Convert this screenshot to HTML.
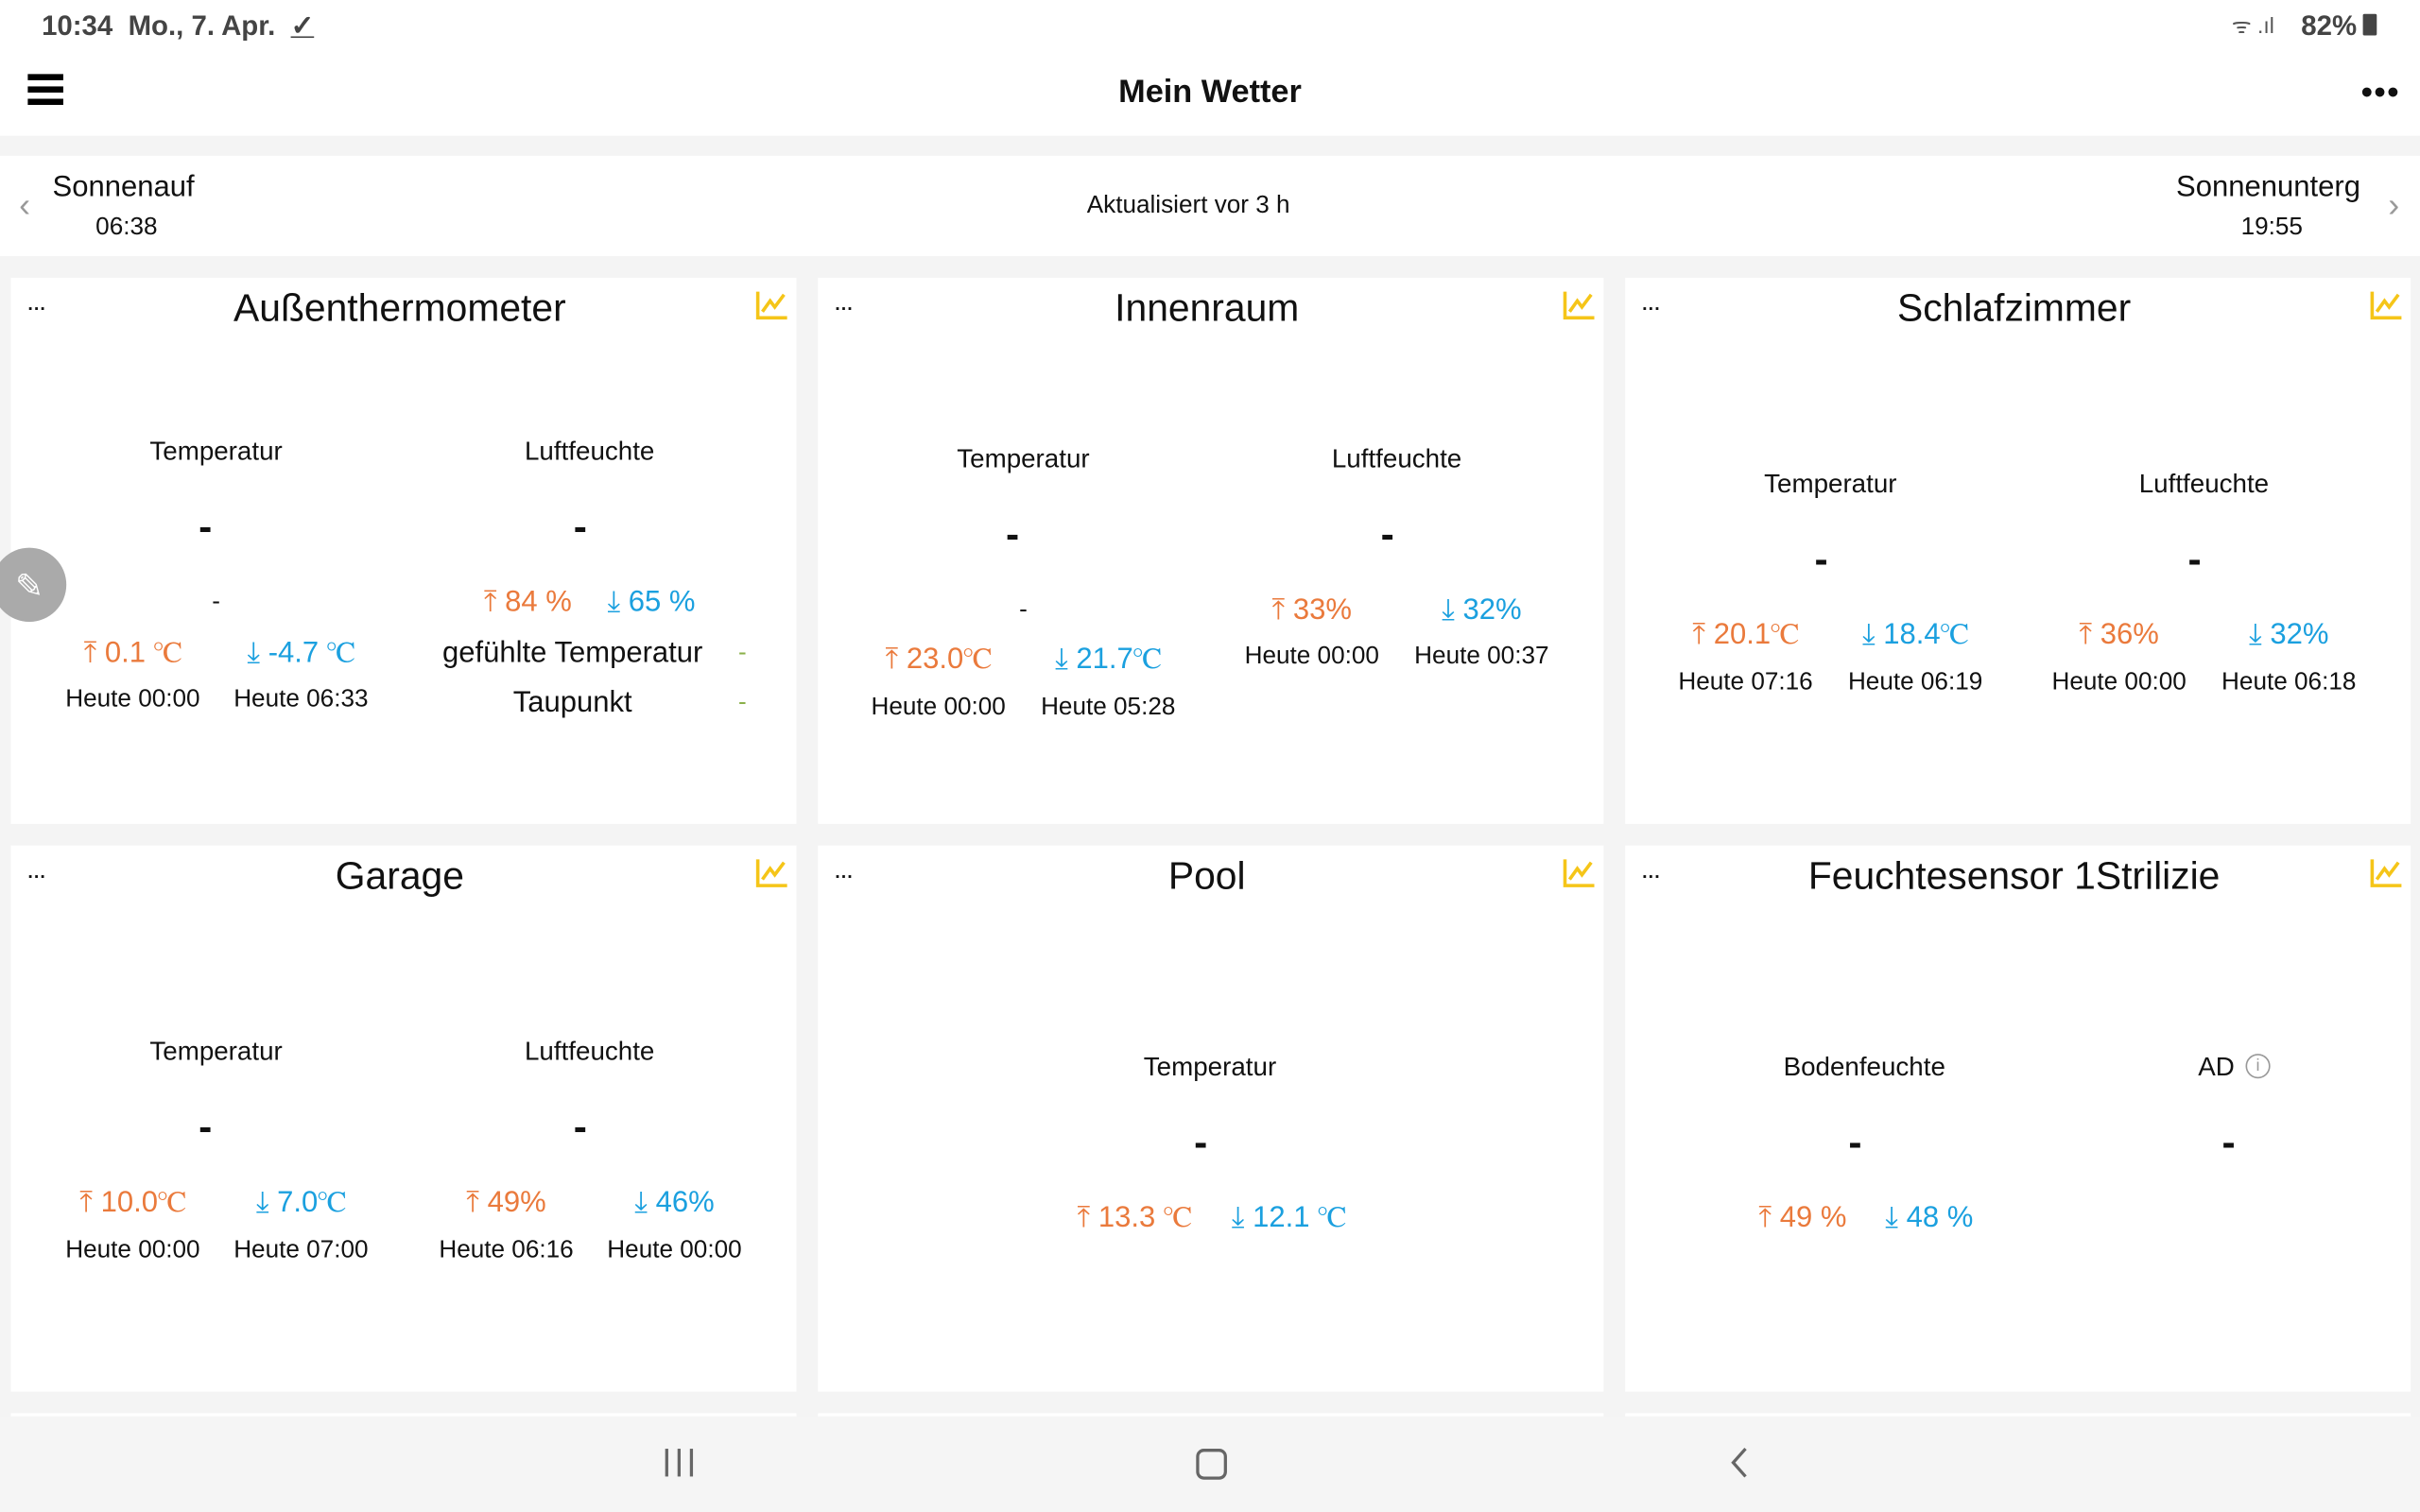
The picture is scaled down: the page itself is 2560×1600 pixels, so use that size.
<!DOCTYPE html>
<html><head><meta charset="utf-8"><style>
html,body{margin:0;padding:0;width:2560px;height:1600px;overflow:hidden;background:#f4f4f4}
#s{position:absolute;left:0;top:0;width:1568px;height:980px;transform:scale(1.63265);transform-origin:0 0;font-family:"Liberation Sans",sans-serif;color:#111;background:#f4f4f4}
.a{position:absolute;transform:translate(-50%,-45%);white-space:nowrap}
.l{position:absolute;transform:translateY(-45%);white-space:nowrap}
.w{position:absolute;background:#fff}
.t{font-size:25px}
.lb{font-size:17px}
.v{font-size:19px}
.h{font-size:16px}
.o{color:#ea7a3c}.b{color:#1ba0df}
.d{font-size:26px;font-weight:bold}
.dots{position:absolute;font-size:12px;font-weight:bold;letter-spacing:0px;transform:translateY(-50%)}
.ci{position:absolute;width:22px;height:20px}
</style></head><body><div id="s">
<div class="w" style="left:0;top:0;width:1568px;height:88px"></div>
<div class="l" style="left:27px;top:16px;font-size:18px;font-weight:bold;color:#444">10:34&nbsp;&nbsp;Mo., 7. Apr.&nbsp;&nbsp;<span style="text-decoration:underline">✓</span></div>
<div class="l" style="left:1446px;top:16px;font-size:14px;color:#555">ᯤ .ıl</div>
<div class="l" style="left:1491px;top:16px;font-size:18px;font-weight:bold;color:#444">82%</div>
<div style="position:absolute;left:1531px;top:9px;width:9px;height:14px;background:#444;border-radius:1px"></div>
<div style="position:absolute;left:18px;top:48px;width:23px;height:4px;background:#000"></div>
<div style="position:absolute;left:18px;top:56px;width:23px;height:4px;background:#000"></div>
<div style="position:absolute;left:18px;top:64px;width:23px;height:4px;background:#000"></div>
<div class="a" style="left:784px;top:59px;font-size:21px;font-weight:bold">Mein Wetter</div>
<div class="a" style="left:1542px;top:58px;font-size:14px;font-weight:bold">●●●</div>
<div class="w" style="left:0;top:101px;width:1568px;height:65px"></div>
<div class="a" style="left:16px;top:132px;font-size:22px;color:#999">‹</div>
<div class="l" style="left:34px;top:121px;font-size:19px">Sonnenauf</div>
<div class="a" style="left:82px;top:147px;font-size:16px">06:38</div>
<div class="a" style="left:770px;top:133px;font-size:16px">Aktualisiert vor 3 h</div>
<div class="l" style="left:1410px;top:121px;font-size:19px">Sonnenunterg</div>
<div class="a" style="left:1472px;top:147px;font-size:16px">19:55</div>
<div class="a" style="left:1551px;top:132px;font-size:22px;color:#999">›</div>

<div class="w" style="left:7px;top:180px;width:509px;height:354px"></div>
<div class="w" style="left:530px;top:180px;width:509px;height:354px"></div>
<div class="w" style="left:1053px;top:180px;width:509px;height:354px"></div>
<div class="w" style="left:7px;top:548px;width:509px;height:354px"></div>
<div class="w" style="left:530px;top:548px;width:509px;height:354px"></div>
<div class="w" style="left:1053px;top:548px;width:509px;height:354px"></div>
<div class="w" style="left:7px;top:916px;width:509px;height:10px"></div>
<div class="w" style="left:530px;top:916px;width:509px;height:10px"></div>
<div class="w" style="left:1053px;top:916px;width:509px;height:10px"></div>

<div class="dots" style="left:18px;top:200px">···</div>
<div class="dots" style="left:541px;top:200px">···</div>
<div class="dots" style="left:1064px;top:200px">···</div>
<div class="dots" style="left:18px;top:568px">···</div>
<div class="dots" style="left:541px;top:568px">···</div>
<div class="dots" style="left:1064px;top:568px">···</div>
<svg class="ci" style="left:489px;top:188px" viewBox="0 0 22 20"><path d="M2 1V18H21M5 14L10 7L13 11L19 3" fill="none" stroke="#f5c518" stroke-width="2.2"/></svg>
<svg class="ci" style="left:1012px;top:188px" viewBox="0 0 22 20"><path d="M2 1V18H21M5 14L10 7L13 11L19 3" fill="none" stroke="#f5c518" stroke-width="2.2"/></svg>
<svg class="ci" style="left:1535px;top:188px" viewBox="0 0 22 20"><path d="M2 1V18H21M5 14L10 7L13 11L19 3" fill="none" stroke="#f5c518" stroke-width="2.2"/></svg>
<svg class="ci" style="left:489px;top:556px" viewBox="0 0 22 20"><path d="M2 1V18H21M5 14L10 7L13 11L19 3" fill="none" stroke="#f5c518" stroke-width="2.2"/></svg>
<svg class="ci" style="left:1012px;top:556px" viewBox="0 0 22 20"><path d="M2 1V18H21M5 14L10 7L13 11L19 3" fill="none" stroke="#f5c518" stroke-width="2.2"/></svg>
<svg class="ci" style="left:1535px;top:556px" viewBox="0 0 22 20"><path d="M2 1V18H21M5 14L10 7L13 11L19 3" fill="none" stroke="#f5c518" stroke-width="2.2"/></svg>

<div class="a t" style="left:259px;top:199px">Außenthermometer</div>
<div class="a t" style="left:782px;top:199px">Innenraum</div>
<div class="a t" style="left:1305px;top:199px">Schlafzimmer</div>
<div class="a t" style="left:259px;top:567px">Garage</div>
<div class="a t" style="left:782px;top:567px">Pool</div>
<div class="a t" style="left:1305px;top:567px">Feuchtesensor 1Strilizie</div>

<div class="a lb" style="left:140px;top:292px">Temperatur</div>
<div class="a lb" style="left:382px;top:292px">Luftfeuchte</div>
<div class="a d" style="left:133px;top:340px">-</div>
<div class="a d" style="left:376px;top:340px">-</div>
<div class="a h" style="left:140px;top:390px">-</div>
<div class="a v o" style="left:342px;top:390px">⤒ 84 %</div>
<div class="a v b" style="left:422px;top:390px">⤓ 65 %</div>
<div class="a v o" style="left:86px;top:423px">⤒ 0.1 ℃</div>
<div class="a v b" style="left:195px;top:423px">⤓ -4.7 ℃</div>
<div class="a v" style="left:371px;top:423px">gefühlte Temperatur</div>
<div class="a h" style="left:481px;top:423px;color:#8ab04a">-</div>
<div class="a h" style="left:86px;top:453px">Heute 00:00</div>
<div class="a h" style="left:195px;top:453px">Heute 06:33</div>
<div class="a v" style="left:371px;top:455px">Taupunkt</div>
<div class="a h" style="left:481px;top:455px;color:#8ab04a">-</div>
<div style="position:absolute;left:-5px;top:355px;width:48px;height:48px;border-radius:50%;background:#aaa"></div>
<div class="a" style="left:19px;top:379px;font-size:22px;color:#fff">✎</div>

<div class="a lb" style="left:663px;top:297px">Temperatur</div>
<div class="a lb" style="left:905px;top:297px">Luftfeuchte</div>
<div class="a d" style="left:656px;top:345px">-</div>
<div class="a d" style="left:899px;top:345px">-</div>
<div class="a h" style="left:663px;top:395px">-</div>
<div class="a v o" style="left:850px;top:395px">⤒ 33%</div>
<div class="a v b" style="left:960px;top:395px">⤓ 32%</div>
<div class="a h" style="left:850px;top:425px">Heute 00:00</div>
<div class="a h" style="left:960px;top:425px">Heute 00:37</div>
<div class="a v o" style="left:608px;top:427px">⤒ 23.0℃</div>
<div class="a v b" style="left:718px;top:427px">⤓ 21.7℃</div>
<div class="a h" style="left:608px;top:458px">Heute 00:00</div>
<div class="a h" style="left:718px;top:458px">Heute 05:28</div>

<div class="a lb" style="left:1186px;top:313px">Temperatur</div>
<div class="a lb" style="left:1428px;top:313px">Luftfeuchte</div>
<div class="a d" style="left:1180px;top:361px">-</div>
<div class="a d" style="left:1422px;top:361px">-</div>
<div class="a v o" style="left:1131px;top:411px">⤒ 20.1℃</div>
<div class="a v b" style="left:1241px;top:411px">⤓ 18.4℃</div>
<div class="a v o" style="left:1373px;top:411px">⤒ 36%</div>
<div class="a v b" style="left:1483px;top:411px">⤓ 32%</div>
<div class="a h" style="left:1131px;top:442px">Heute 07:16</div>
<div class="a h" style="left:1241px;top:442px">Heute 06:19</div>
<div class="a h" style="left:1373px;top:442px">Heute 00:00</div>
<div class="a h" style="left:1483px;top:442px">Heute 06:18</div>

<div class="a lb" style="left:140px;top:681px">Temperatur</div>
<div class="a lb" style="left:382px;top:681px">Luftfeuchte</div>
<div class="a d" style="left:133px;top:729px">-</div>
<div class="a d" style="left:376px;top:729px">-</div>
<div class="a v o" style="left:86px;top:779px">⤒ 10.0℃</div>
<div class="a v b" style="left:195px;top:779px">⤓ 7.0℃</div>
<div class="a v o" style="left:328px;top:779px">⤒ 49%</div>
<div class="a v b" style="left:437px;top:779px">⤓ 46%</div>
<div class="a h" style="left:86px;top:810px">Heute 00:00</div>
<div class="a h" style="left:195px;top:810px">Heute 07:00</div>
<div class="a h" style="left:328px;top:810px">Heute 06:16</div>
<div class="a h" style="left:437px;top:810px">Heute 00:00</div>

<div class="a lb" style="left:784px;top:691px">Temperatur</div>
<div class="a d" style="left:778px;top:739px">-</div>
<div class="a v o" style="left:735px;top:789px">⤒ 13.3 ℃</div>
<div class="a v b" style="left:835px;top:789px">⤓ 12.1 ℃</div>

<div class="a lb" style="left:1208px;top:691px">Bodenfeuchte</div>
<div class="a lb" style="left:1436px;top:691px">AD</div>
<div style="position:absolute;left:1455px;top:683px;width:14px;height:14px;border:1px solid #999;border-radius:50%;font-size:11px;color:#999;text-align:center;line-height:14px">i</div>
<div class="a d" style="left:1202px;top:739px">-</div>
<div class="a d" style="left:1444px;top:739px">-</div>
<div class="a v o" style="left:1168px;top:789px">⤒ 49 %</div>
<div class="a v b" style="left:1250px;top:789px">⤓ 48 %</div>

<div style="position:absolute;left:0;top:918px;width:1568px;height:62px;background:#f5f5f5"></div>
<div style="position:absolute;left:431px;top:939px;width:2px;height:18px;background:#666"></div>
<div style="position:absolute;left:439px;top:939px;width:2px;height:18px;background:#666"></div>
<div style="position:absolute;left:447px;top:939px;width:2px;height:18px;background:#666"></div>
<div style="position:absolute;left:775px;top:939px;width:16px;height:16px;border:2px solid #666;border-radius:5px"></div>
<svg style="position:absolute;left:1120px;top:937px" width="14" height="22" viewBox="0 0 14 22"><path d="M11 2L3 11L11 20" fill="none" stroke="#666" stroke-width="2"/></svg>
</div></body></html>
